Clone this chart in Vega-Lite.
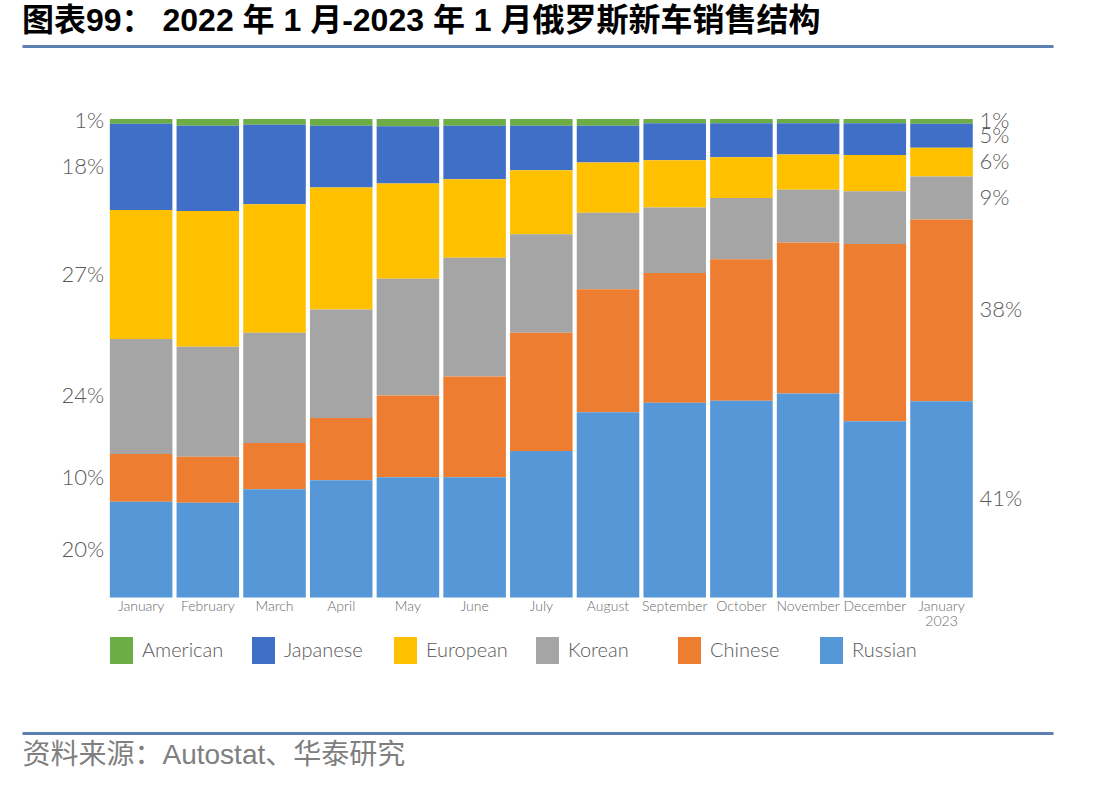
{
  "$schema": "https://vega.github.io/schema/vega-lite/v6.json",
  "background": "white",
  "padding": {"left": 22, "top": 5, "right": 59, "bottom": 10},
  "width": 1031,
  "height": 687,
  "title": {
    "text": "图表99： 2022 年 1 月-2023 年 1 月俄罗斯新车销售结构",
    "anchor": "start",
    "frame": "group",
    "font": "Liberation Sans, Noto Sans CJK SC, sans-serif",
    "fontSize": 32,
    "fontWeight": "bold",
    "color": "#000000",
    "offset": 8
  },
  "config": {
    "view": {"stroke": null},
    "text": {"font": "Lato, Liberation Sans, sans-serif", "fontWeight": 300}
  },
  "data": {
    "values": [
      {"month": "January", "origin": "American", "share": 1},
      {"month": "January", "origin": "Japanese", "share": 18},
      {"month": "January", "origin": "European", "share": 27},
      {"month": "January", "origin": "Korean", "share": 24},
      {"month": "January", "origin": "Chinese", "share": 10},
      {"month": "January", "origin": "Russian", "share": 20},
      {"month": "February", "origin": "American", "share": 1.4},
      {"month": "February", "origin": "Japanese", "share": 17.8},
      {"month": "February", "origin": "European", "share": 28.4},
      {"month": "February", "origin": "Korean", "share": 23.0},
      {"month": "February", "origin": "Chinese", "share": 9.6},
      {"month": "February", "origin": "Russian", "share": 19.8},
      {"month": "March", "origin": "American", "share": 1.2},
      {"month": "March", "origin": "Japanese", "share": 16.6},
      {"month": "March", "origin": "European", "share": 26.9},
      {"month": "March", "origin": "Korean", "share": 23.0},
      {"month": "March", "origin": "Chinese", "share": 9.7},
      {"month": "March", "origin": "Russian", "share": 22.6},
      {"month": "April", "origin": "American", "share": 1.4},
      {"month": "April", "origin": "Japanese", "share": 12.9},
      {"month": "April", "origin": "European", "share": 25.5},
      {"month": "April", "origin": "Korean", "share": 22.7},
      {"month": "April", "origin": "Chinese", "share": 13.0},
      {"month": "April", "origin": "Russian", "share": 24.5},
      {"month": "May", "origin": "American", "share": 1.5},
      {"month": "May", "origin": "Japanese", "share": 12.0},
      {"month": "May", "origin": "European", "share": 19.9},
      {"month": "May", "origin": "Korean", "share": 24.4},
      {"month": "May", "origin": "Chinese", "share": 17.1},
      {"month": "May", "origin": "Russian", "share": 25.1},
      {"month": "June", "origin": "American", "share": 1.4},
      {"month": "June", "origin": "Japanese", "share": 11.2},
      {"month": "June", "origin": "European", "share": 16.4},
      {"month": "June", "origin": "Korean", "share": 24.8},
      {"month": "June", "origin": "Chinese", "share": 21.1},
      {"month": "June", "origin": "Russian", "share": 25.1},
      {"month": "July", "origin": "American", "share": 1.4},
      {"month": "July", "origin": "Japanese", "share": 9.3},
      {"month": "July", "origin": "European", "share": 13.4},
      {"month": "July", "origin": "Korean", "share": 20.6},
      {"month": "July", "origin": "Chinese", "share": 24.7},
      {"month": "July", "origin": "Russian", "share": 30.6},
      {"month": "August", "origin": "American", "share": 1.4},
      {"month": "August", "origin": "Japanese", "share": 7.7},
      {"month": "August", "origin": "European", "share": 10.5},
      {"month": "August", "origin": "Korean", "share": 16.0},
      {"month": "August", "origin": "Chinese", "share": 25.7},
      {"month": "August", "origin": "Russian", "share": 38.7},
      {"month": "September", "origin": "American", "share": 0.9},
      {"month": "September", "origin": "Japanese", "share": 7.7},
      {"month": "September", "origin": "European", "share": 9.9},
      {"month": "September", "origin": "Korean", "share": 13.7},
      {"month": "September", "origin": "Chinese", "share": 27.1},
      {"month": "September", "origin": "Russian", "share": 40.7},
      {"month": "October", "origin": "American", "share": 0.9},
      {"month": "October", "origin": "Japanese", "share": 7.1},
      {"month": "October", "origin": "European", "share": 8.5},
      {"month": "October", "origin": "Korean", "share": 12.8},
      {"month": "October", "origin": "Chinese", "share": 29.6},
      {"month": "October", "origin": "Russian", "share": 41.1},
      {"month": "November", "origin": "American", "share": 0.9},
      {"month": "November", "origin": "Japanese", "share": 6.5},
      {"month": "November", "origin": "European", "share": 7.4},
      {"month": "November", "origin": "Korean", "share": 11.0},
      {"month": "November", "origin": "Chinese", "share": 31.6},
      {"month": "November", "origin": "Russian", "share": 42.6},
      {"month": "December", "origin": "American", "share": 0.9},
      {"month": "December", "origin": "Japanese", "share": 6.6},
      {"month": "December", "origin": "European", "share": 7.6},
      {"month": "December", "origin": "Korean", "share": 11.0},
      {"month": "December", "origin": "Chinese", "share": 37.1},
      {"month": "December", "origin": "Russian", "share": 36.8},
      {"month": "January 2023", "origin": "American", "share": 1},
      {"month": "January 2023", "origin": "Japanese", "share": 5},
      {"month": "January 2023", "origin": "European", "share": 6},
      {"month": "January 2023", "origin": "Korean", "share": 9},
      {"month": "January 2023", "origin": "Chinese", "share": 38},
      {"month": "January 2023", "origin": "Russian", "share": 41}
    ]
  },
  "transform": [
    {"calculate": "indexof(['Russian','Chinese','Korean','European','Japanese','American'], datum.origin)", "as": "stackRank"},
    {"stack": "share", "groupby": ["month"], "sort": [{"field": "stackRank", "order": "ascending"}], "as": ["y0", "y1"]},
    {"calculate": "(datum.y0 + datum.y1) / 2", "as": "ymid"},
    {"calculate": "datum.share + '%'", "as": "label"}
  ],
  "layer": [
    {
      "mark": {"type": "bar", "strokeWidth": 0},
      "encoding": {
        "x": {
          "field": "month",
          "type": "nominal",
          "scale": {
            "domain": ["", "January", "February", "March", "April", "May", "June", "July", "August", "September", "October", "November", "December", "January 2023", " "],
            "paddingInner": 0.0625,
            "paddingOuter": 0.26,
            "align": 0.61
          },
          "axis": {
            "orient": "bottom",
            "labels": false,
            "ticks": false,
            "grid": false,
            "domainColor": "#5b7fb3",
            "domainWidth": 3,
            "title": "资料来源：Autostat、华泰研究",
            "titleAnchor": "start",
            "titleAlign": "left",
            "titleBaseline": "top",
            "titlePadding": 8,
            "titleFont": "Liberation Sans, Noto Sans CJK SC, sans-serif",
            "titleFontSize": 28,
            "titleFontWeight": "normal",
            "titleColor": "#7f7f7f"
          }
        },
        "y": {
          "field": "y0",
          "type": "quantitative",
          "scale": {"domain": [-28.35, 115.27], "nice": false, "zero": false},
          "axis": null
        },
        "y2": {"field": "y1"},
        "color": {
          "field": "origin",
          "type": "nominal",
          "scale": {
            "domain": ["American", "Japanese", "European", "Korean", "Chinese", "Russian"],
            "range": ["#6cad46", "#3f6fc6", "#ffc000", "#a5a5a5", "#ed7d31", "#5597d7"]
          },
          "legend": {
            "title": null,
            "orient": "none",
            "legendX": 86,
            "legendY": 591,
            "direction": "horizontal",
            "columns": 6,
            "gridAlign": "all",
            "columnPadding": 26,
            "padding": 0,
            "symbolType": "M-0.85,-1H0.85V1H-0.85Z",
            "symbolSize": 729,
            "symbolStrokeWidth": 0,
            "symbolOpacity": 1,
            "labelFont": "Lato, Liberation Sans, sans-serif",
            "labelFontWeight": 300,
            "labelFontSize": 20,
            "labelColor": "#595959",
            "labelOffset": 7
          }
        }
      }
    },
    {
      "transform": [{"filter": "datum.origin === 'Russian'"}],
      "mark": {"type": "text", "baseline": "top", "dy": 3, "fontSize": 14, "color": "#6b6b6b", "lineBreak": " ", "lineHeight": 15},
      "encoding": {
        "x": {
          "field": "month",
          "type": "nominal",
          "axis": {
            "orient": "top",
            "labels": false,
            "ticks": false,
            "grid": false,
            "title": null,
            "domainColor": "#5b7fb3",
            "domainWidth": 3
          }
        },
        "y": {"datum": 0, "type": "quantitative"},
        "text": {"field": "month"}
      }
    },
    {
      "transform": [{"filter": "datum.month === 'January'"}],
      "mark": {"type": "text", "align": "right", "baseline": "middle", "dx": -37, "fontSize": 22, "color": "#5a5a5a"},
      "encoding": {
        "x": {"field": "month", "type": "nominal", "axis": null},
        "y": {"field": "ymid", "type": "quantitative"},
        "text": {"field": "label"}
      }
    },
    {
      "transform": [{"filter": "datum.month === 'January 2023'"}],
      "mark": {"type": "text", "align": "left", "baseline": "middle", "dx": 38, "fontSize": 22, "color": "#5a5a5a"},
      "encoding": {
        "x": {"field": "month", "type": "nominal", "axis": null},
        "y": {"field": "ymid", "type": "quantitative"},
        "text": {"field": "label"}
      }
    }
  ],
  "resolve": {"axis": {"x": "independent"}}
}
